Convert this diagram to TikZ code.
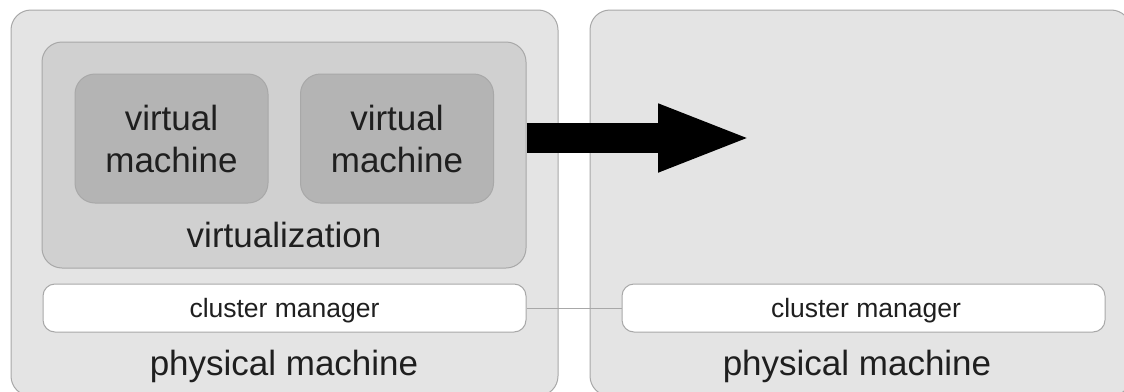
\documentclass[tikz,border=0pt]{standalone}
\usepackage{fontspec}
\setmainfont{Liberation Sans}
\usetikzlibrary{arrows.meta}
\definecolor{pmfill}{HTML}{E4E4E4}
\definecolor{virtfill}{HTML}{D0D0D0}
\definecolor{vmfill}{HTML}{B4B4B4}
\definecolor{edge}{HTML}{A8A8A8}
\tikzset{
  box/.style={draw=edge, line width=1pt, rounded corners=20pt, inner sep=0pt},
  pmbox/.style={box, fill=pmfill},
  virtbox/.style={box, fill=virtfill},
  vmbox/.style={box, fill=vmfill, align=center, font=\fontsize{35}{42}\selectfont, text=black!88},
  cmbox/.style={box, fill=white, rounded corners=12pt},
  biglabel/.style={font=\fontsize{35}{42}\selectfont, anchor=base, inner sep=0pt, text=black!88},
  smalllabel/.style={font=\fontsize{26.5}{30}\selectfont, anchor=base, inner sep=0pt, text=black!88},
}
\begin{document}
\begin{tikzpicture}[x=1pt,y=-1pt]
\useasboundingbox (0,0) rectangle (1124,391);
\begin{scope}
\clip (0,0) rectangle (1124,391);
% left physical machine
\node[pmbox, minimum width=547pt, minimum height=386pt] (pm1) at (284.5,203) {};
% right physical machine
\node[pmbox, minimum width=541pt, minimum height=386pt] (pm2) at (860.5,203) {};
\end{scope}
\node[biglabel] (pm1l) at (284,375) {physical machine};
\node[biglabel] (pm2l) at (857,375) {physical machine};
% virtualization
\node[virtbox, minimum width=484pt, minimum height=226pt] (virt) at (284,155) {};
\node[biglabel] (virtl) at (284,247) {virtualization};
% virtual machines
\node[vmbox, minimum width=193pt, minimum height=129pt] (vm1) at (171.5,138.5) {virtual\\machine};
\node[vmbox, minimum width=193pt, minimum height=129pt] (vm2) at (397,138.5) {virtual\\machine};
% cluster managers
\node[cmbox, minimum width=483pt, minimum height=48pt] (cm1) at (284.5,308) {};
\node[smalllabel] (cm1l) at (284.5,317) {cluster manager};
\node[cmbox, minimum width=483pt, minimum height=48pt] (cm2) at (863.5,308) {};
\node[smalllabel] (cm2l) at (866,317) {cluster manager};
% link
\draw[edge, line width=1pt] (cm1.east) -- (cm2.west);
% migration arrow
\coordinate (tip) at (753,138);
\draw[black, line width=30pt, -{Triangle[length=95pt,width=61pt]}] (virt.east |- tip) -- (tip);
\end{tikzpicture}
\end{document}
